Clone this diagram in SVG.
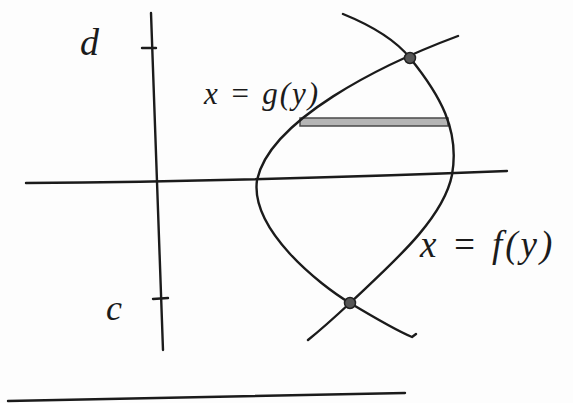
<svg xmlns="http://www.w3.org/2000/svg" width="573" height="403" viewBox="0 0 573 403">
<style>
.ln{fill:none;stroke:#1b1b1b;stroke-width:2.4;stroke-linecap:round;stroke-linejoin:round}
.tx{font-family:"Liberation Serif",serif;font-style:italic;fill:#1b1b1b}
.dot{fill:#555;stroke:#222;stroke-width:1.5}
</style>
<rect width="573" height="403" fill="#fdfdfd"/>
<g id="axes">
<path class="ln" d="M151,13 L163,350"/>
<path class="ln" d="M26,183 Q 260,181 507,171"/>
<path class="ln" d="M142,48 L156,48"/>
<path class="ln" d="M153,299 L168,298"/>
<path class="ln" d="M8,401 L405,393"/>
</g>
<g id="strip">
<rect x="300" y="118" width="148" height="8" fill="#b5b5b5" stroke="#4a4a4a" stroke-width="1.5"/>
</g>
<g id="curves">
<path id="curve-g" class="ln" d="M458,36 C 380,65 270,120 257,180 C 250,230 320,285 350,303 C 375,318 395,330 412,337 L416,334"/>
<path id="curve-f" class="ln" d="M343,14 C 375,27 398,43 410,58 C 440,95 460,130 452,175 C 443,220 390,265 350,303 C 335,317 318,332 308,340"/>
</g>
<g id="points">
<circle class="dot" cx="410" cy="58" r="5.5"/>
<circle class="dot" cx="350" cy="303" r="5.5"/>
</g>
<g id="labels">
<text class="tx" x="80" y="55" font-size="38">d</text>
<text class="tx" x="106" y="320" font-size="36">c</text>
<text class="tx" x="204" y="104" font-size="31" letter-spacing="2">x = g(y)</text>
<text class="tx" x="420" y="257" font-size="37" letter-spacing="3">x = f(y)</text>
</g>
</svg>
